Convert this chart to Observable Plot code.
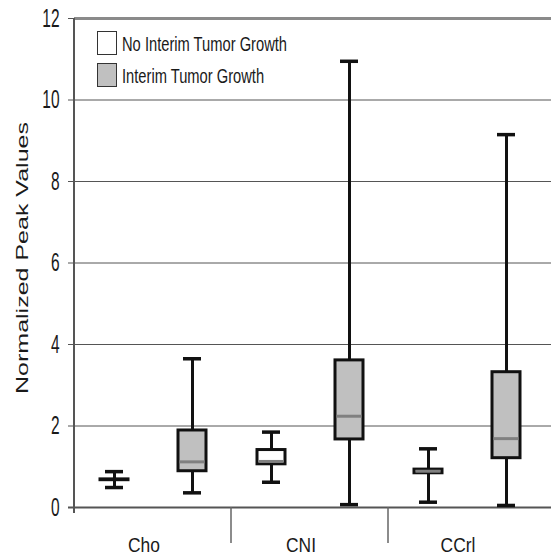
<!DOCTYPE html>
<html>
<head>
<meta charset="utf-8">
<script src="https://cdn.jsdelivr.net/npm/d3@7"></script>
<script src="https://cdn.jsdelivr.net/npm/@observablehq/plot@0.6"></script>
<style>
  body { margin: 0; background: #fff; }
  #wrap { position: relative; width: 551px; height: 558px; overflow: hidden; }
  .ylabel { position: absolute; left: 22px; top: 258px; white-space: nowrap;
    font: 25px "Liberation Sans", Arial, sans-serif; color: #1a1a1a;
    transform: translate(-50%, -50%) rotate(-90deg) scaleY(0.65); }
  .lbox { position: absolute; left: 97px; width: 18px; height: 22px; border: 1.5px solid #333; }
  .ltext { position: absolute; left: 122px; white-space: nowrap; line-height: 21px;
    font: 21px "Liberation Sans", Arial, sans-serif; color: #1a1a1a;
    transform: scaleX(0.7); transform-origin: left center; }
</style>
</head>
<body>
<div id="wrap"></div>
<script>
const categories = ["Cho", "CNI", "CCrl"];
const groups = ["No Interim Tumor Growth", "Interim Tumor Growth"];
const groupFills = ["#ffffff", "#c0c0c0"];
const yTicks = [0, 2, 4, 6, 8, 10, 12];
const yLabel = "Normalized Peak Values";

const boxCategory = ["Cho", "Cho", "CNI", "CNI", "CCrl", "CCrl"];
const boxGroup = [groups[0], groups[1], groups[0], groups[1], groups[0], groups[1]];
const mins    = [0.49, 0.36, 0.62, 0.07, 0.13, 0.05];
const q1s     = [0.67, 0.89, 1.06, 1.67, 0.84, 1.21];
const medians = [0.68, 1.12, 1.13, 2.24, 0.89, 1.69];
const q3s     = [0.69, 1.89, 1.41, 3.61, 0.93, 3.32];
const maxs    = [0.88, 3.65, 1.85, 10.95, 1.44, 9.15];

const rows = boxCategory.map((c, i) => ({
  category: c, group: boxGroup[i],
  min: mins[i], q1: q1s[i], median: medians[i], q3: q3s[i], max: maxs[i]
}));

// one horizontal rule per facet; end facets get extended to the plot edges
const lineRows = categories.flatMap(c => yTicks.map(v => ({ category: c, v })));
const first = categories[0], last = categories[categories.length - 1];
const gridOf = d => d.v > 0 && d.v < 12;
function hRules(filter, style) {
  return [
    Plot.ruleY(lineRows.filter(d => filter(d) && d.category !== first && d.category !== last), { fx: "category", y: "v", ...style }),
    Plot.ruleY(lineRows.filter(d => filter(d) && d.category === first), { fx: "category", y: "v", ...style, insetLeft: style.extendLeft ? -6 : 0 }),
    Plot.ruleY(lineRows.filter(d => filter(d) && d.category === last), { fx: "category", y: "v", ...style, insetRight: -6 })
  ];
}

const chart = Plot.plot({
  width: 551, height: 558,
  marginLeft: 74, marginRight: 6, marginTop: 18, marginBottom: 51,
  style: { fontFamily: '"Liberation Sans", Arial, sans-serif', background: "#fff", color: "#1a1a1a" },
  fx: { domain: categories, padding: 0, axis: null, label: null },
  x: { domain: groups, padding: 0, axis: null },
  y: { domain: [0, 12], axis: null },
  color: { domain: groups, range: groupFills },
  marks: [
    ...hRules(gridOf, { stroke: "#555", strokeWidth: 1 }),
    ...hRules(d => d.v === 12, { stroke: "#8a8a8a", strokeWidth: 3 }),
    ...hRules(d => d.v === 0, { stroke: "#555", strokeWidth: 2, extendLeft: true }),
    Plot.ruleX(rows, { fx: "category", x: "group", y1: "min", y2: "max", stroke: "#111", strokeWidth: 3 }),
    Plot.tickY(rows, { fx: "category", x: "group", y: "min", stroke: "#111", strokeWidth: 3.5, insetLeft: 30, insetRight: 30 }),
    Plot.tickY(rows, { fx: "category", x: "group", y: "max", stroke: "#111", strokeWidth: 3.5, insetLeft: 30, insetRight: 30 }),
    Plot.barY(rows, { fx: "category", x: "group", y1: "q1", y2: "q3", fill: "group", stroke: "#111", strokeWidth: 3, insetLeft: 25, insetRight: 25 }),
    Plot.tickY(rows.filter(d => d.q3 - d.q1 > 0.05), { fx: "category", x: "group", y: "median", stroke: "#808080", strokeWidth: 3, insetLeft: 26.5, insetRight: 26.5 }),
    Plot.axisY(yTicks, { tickSize: 6, tickPadding: 9, fontSize: 25, label: null, stroke: "#555", fill: "#1a1a1a" }),
    Plot.axisFx({ anchor: "bottom", tickSize: 0, tickPadding: 30, fontSize: 20, label: null, dx: -9, fill: "#1a1a1a" })
  ]
});

const wrap = document.getElementById("wrap");
wrap.appendChild(chart);

// horizontal squeeze of the condensed reference lettering
function squeeze(sel, s) {
  d3.select(chart).selectAll(sel).each(function () {
    const t = this.getAttribute("transform");
    if (t && t.includes("translate")) {
      this.setAttribute("transform", t + ` scale(${s},1)`);
    } else {
      const x = +(this.getAttribute("x") || 0), y = +(this.getAttribute("y") || 0);
      this.removeAttribute("x"); this.removeAttribute("y");
      this.setAttribute("transform", `translate(${x},${y}) ${t || ""} scale(${s},1)`);
    }
  });
}
squeeze('g[aria-label="y-axis tick label"] text', 0.62);
squeeze('g[aria-label="fx-axis tick label"] text', 0.87);

// axis line and category separators positioned from Plot's own scales
const fx = chart.scale("fx"), y = chart.scale("y");
const svg = d3.select(chart);
const x0 = fx.apply(categories[0]);
svg.append("line").attr("x1", x0).attr("x2", x0)
  .attr("y1", y.apply(12)).attr("y2", y.apply(0) + 6)
  .attr("stroke", "#555").attr("stroke-width", 2);
categories.slice(1).forEach(c => {
  const xs = fx.apply(c);
  svg.append("line").attr("x1", xs).attr("x2", xs)
    .attr("y1", y.apply(0)).attr("y2", y.apply(0) + 36)
    .attr("stroke", "#666").attr("stroke-width", 1.5);
});

// y label
const yl = document.createElement("div");
yl.className = "ylabel"; yl.textContent = yLabel;
wrap.appendChild(yl);

// legend
groups.forEach((g, i) => {
  const b = document.createElement("div");
  b.className = "lbox";
  b.style.top = (31 + i * 32) + "px";
  b.style.background = groupFills[i];
  wrap.appendChild(b);
  const t = document.createElement("div");
  t.className = "ltext";
  t.style.top = (32 + i * 32) + "px";
  t.textContent = g;
  wrap.appendChild(t);
});
</script>
</body>
</html>
